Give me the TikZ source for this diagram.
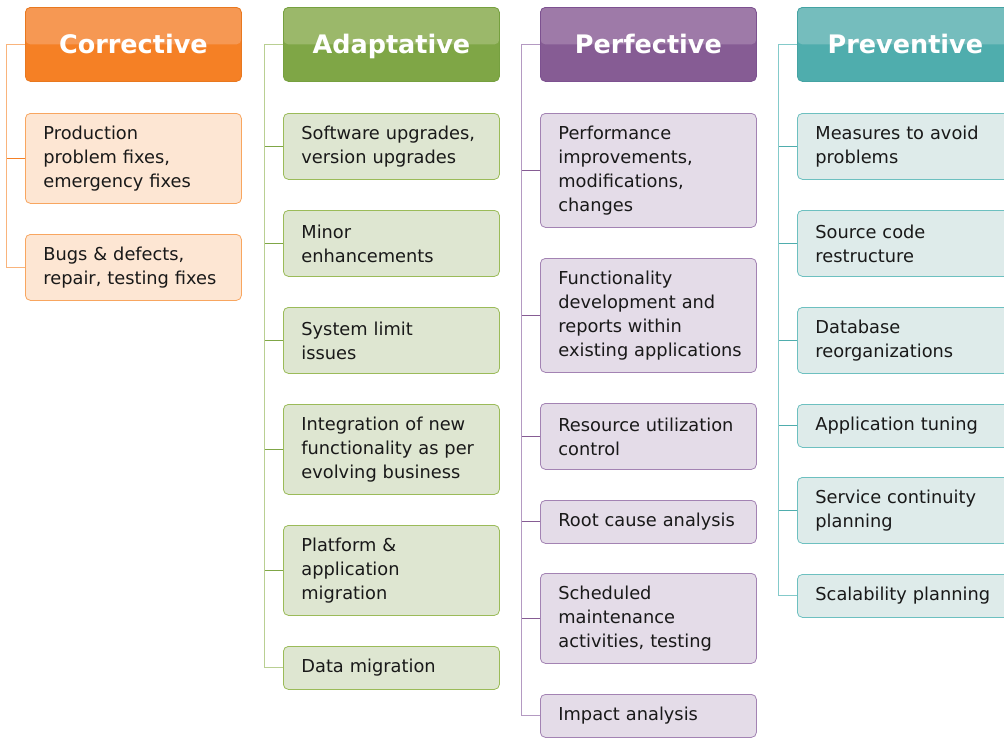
\documentclass[tikz,border=0pt]{standalone}
\usepackage{fontspec}
\setmainfont{DejaVu Sans}
\newcommand\mynohyph{\hyphenpenalty=10000\relax\exhyphenpenalty=10000\relax}
\definecolor{oTop}{HTML}{F69853}\definecolor{oBot}{HTML}{F58025}\definecolor{oBd}{HTML}{E8781F}
\definecolor{oFill}{HTML}{FDE6D3}\definecolor{oLine}{HTML}{F8A660}\definecolor{oTrunk}{HTML}{F9B47C}
\definecolor{gTop}{HTML}{9BB86A}\definecolor{gBot}{HTML}{7FA646}\definecolor{gBd}{HTML}{76A03F}
\definecolor{gFill}{HTML}{DEE6D1}\definecolor{gLine}{HTML}{9BBB59}\definecolor{gTrunk}{HTML}{B9CF92}
\definecolor{pTop}{HTML}{9E7AA8}\definecolor{pBot}{HTML}{865C94}\definecolor{pBd}{HTML}{7D5190}
\definecolor{pFill}{HTML}{E4DCE8}\definecolor{pLine}{HTML}{A383B3}\definecolor{pTrunk}{HTML}{B49AC2}
\definecolor{tTop}{HTML}{75BDBD}\definecolor{tBot}{HTML}{4FADAD}\definecolor{tBd}{HTML}{45A3A3}
\definecolor{tFill}{HTML}{DEEBEA}\definecolor{tLine}{HTML}{6DC0C0}\definecolor{tTrunk}{HTML}{84CACA}
\begin{document}
\begin{tikzpicture}[x=1pt,y=-1pt,
  hdr/.style n args={3}{draw=#3, line width=0.8pt, rounded corners=5pt, fill=#2,
    minimum width=216, minimum height=74, anchor=north west, inner sep=0pt,
    text height=22pt, text depth=4pt,
    text=white, font=\fontsize{25.5}{30}\selectfont\bfseries,
    path picture={\fill[#1] (path picture bounding box.north west) rectangle (path picture bounding box.east);}},
  item/.style={line width=0.8pt, rounded corners=5pt, minimum width=216, text width=180,
    inner xsep=18pt, inner ysep=0pt, align=left, anchor=north west, minimum height=#1,
    font=\fontsize{17.8}{24}\selectfont\mynohyph, text=black!90},
  oitem/.style={item=#1, draw=oLine, fill=oFill},
  gitem/.style={item=#1, draw=gLine, fill=gFill},
  pitem/.style={item=#1, draw=pLine, fill=pFill},
  titem/.style={item=#1, draw=tLine, fill=tFill},
  trunk/.style={draw=#1, line width=1pt},
  branch/.style={draw=#1, line width=1pt}
]
\useasboundingbox (0,0) rectangle (1004,737);
\clip (0,0) rectangle (1004,737);

% ---------- Corrective ----------
\node[hdr={oTop}{oBot}{oBd}] (h1) at (25,7) {Corrective};
\node[oitem=90] (c1) at (25,113) {Production\\problem fixes,\\emergency fixes};
\node[oitem=66] (c2) at (25,234) {Bugs \& defects,\\\mbox{repair, testing fixes}};
\draw[trunk=oTrunk] (h1.west) -- ++(-18.5,0) |- (c2.west);
\draw[branch=oBot] (c1.west) -- ++(-18.5,0);

% ---------- Adaptative ----------
\node[hdr={gTop}{gBot}{gBd}] (h2) at (283,7) {Adaptative};
\node[gitem=66] (a1) at (283,113) {\mbox{Software upgrades,}\\version upgrades};
\node[gitem=66] (a2) at (283,210) {Minor\\enhancements};
\node[gitem=66] (a3) at (283,307) {System limit\\issues};
\node[gitem=90] (a4) at (283,404) {Integration of new\\\mbox{functionality as per}\\evolving business};
\node[gitem=90] (a5) at (283,525) {Platform \&\\application\\migration};
\node[gitem=43] (a6) at (283,646) {Data migration};
\draw[trunk=gTrunk] (h2.west) -- ++(-18.5,0) |- (a6.west);
\foreach \n in {a1,a2,a3,a4,a5} \draw[branch=gBot] (\n.west) -- ++(-18.5,0);

% ---------- Perfective ----------
\node[hdr={pTop}{pBot}{pBd}] (h3) at (540,7) {Perfective};
\node[pitem=114] (p1) at (540,113) {Performance\\improvements,\\modifications,\\changes};
\node[pitem=114] (p2) at (540,258) {Functionality\\development and\\reports within\\\mbox{existing applications}};
\node[pitem=66] (p3) at (540,403) {\mbox{Resource utilization}\\control};
\node[pitem=43] (p4) at (540,500) {Root cause analysis};
\node[pitem=90] (p5) at (540,573) {Scheduled\\maintenance\\activities, testing};
\node[pitem=43] (p6) at (540,694) {Impact analysis};
\draw[trunk=pTrunk] (h3.west) -- ++(-18.5,0) |- (p6.west);
\foreach \n in {p1,p2,p3,p4,p5} \draw[branch=pBot] (\n.west) -- ++(-18.5,0);

% ---------- Preventive ----------
\node[hdr={tTop}{tBot}{tBd}] (h4) at (797,7) {Preventive};
\node[titem=66] (v1) at (797,113) {Measures to avoid\\problems};
\node[titem=66] (v2) at (797,210) {Source code\\restructure};
\node[titem=66] (v3) at (797,307) {Database\\reorganizations};
\node[titem=43] (v4) at (797,404) {Application tuning};
\node[titem=66] (v5) at (797,477) {\mbox{Service continuity}\\planning};
\node[titem=43] (v6) at (797,574) {\mbox{Scalability planning}};
\draw[trunk=tTrunk] (h4.west) -- ++(-18.5,0) |- (v6.west);
\foreach \n in {v1,v2,v3,v4,v5} \draw[branch=tBot] (\n.west) -- ++(-18.5,0);
\end{tikzpicture}
\end{document}
